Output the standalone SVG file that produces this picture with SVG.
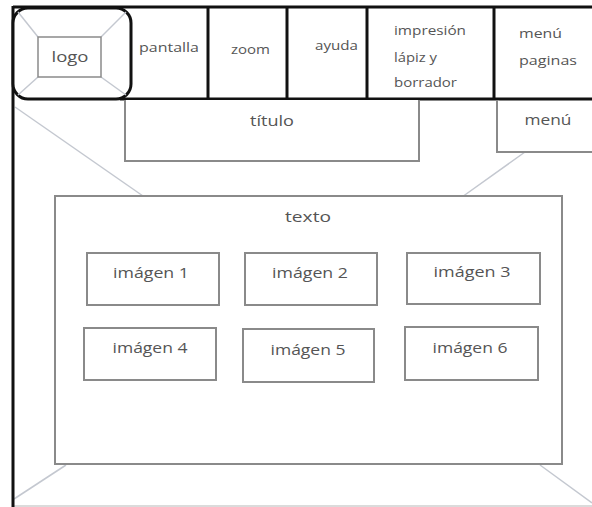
<svg xmlns="http://www.w3.org/2000/svg" width="592" height="507" viewBox="0 0 592 507">
<style>
.bg{fill:#ffffff}
.thick{stroke:#111;stroke-width:3;fill:none}
.box{stroke:#8a8a8a;stroke-width:2;fill:#fff}
.diag{stroke:#c4c8d0;stroke-width:1.5;fill:none}
.faint{stroke:#cfcfcf;stroke-width:1.5;fill:none}
text{font-family:"Open Sans","Liberation Sans",sans-serif;fill:#555}
.sm{font-size:12px}
.md{font-size:15px}
.c{text-anchor:middle}
</style>
<rect class="bg" x="0" y="0" width="592" height="507"/>
<g id="connectors">
<line class="diag" x1="15" y1="107" x2="143" y2="196"/>
<line class="diag" x1="525" y1="152" x2="462" y2="197"/>
<line class="diag" x1="66" y1="465" x2="14" y2="499"/>
<line class="diag" x1="540" y1="465" x2="592" y2="503"/>
</g>
<g id="frame">
<line class="faint" x1="13" y1="506" x2="592" y2="506"/>
<line class="thick" x1="13" y1="7" x2="592" y2="7"/>
<line class="thick" x1="13" y1="6" x2="13" y2="507"/>
<line class="thick" x1="120" y1="99" x2="592" y2="99"/>
<line class="thick" x1="208" y1="7" x2="208" y2="99"/>
<line class="thick" x1="287" y1="7" x2="287" y2="99"/>
<line class="thick" x1="367" y1="7" x2="367" y2="99"/>
<line class="thick" x1="494" y1="7" x2="494" y2="99"/>
</g>
<g id="logo">
<rect x="13" y="8" width="118" height="91" rx="15" ry="15" fill="#fff" stroke="#111" stroke-width="3"/>
<line class="diag" x1="18" y1="12" x2="38" y2="37"/>
<line class="diag" x1="126" y1="12" x2="101" y2="37"/>
<line class="diag" x1="18" y1="95" x2="38" y2="77"/>
<line class="diag" x1="126" y1="95" x2="101" y2="77"/>
<rect x="38" y="37" width="63" height="40" fill="#fff" stroke="#8a8a8a" stroke-width="1.5"/>
<text class="md c" x="70" y="62" textLength="37" lengthAdjust="spacingAndGlyphs">logo</text>
</g>
<g id="pantalla"><text class="sm" x="139" y="52" textLength="60" lengthAdjust="spacingAndGlyphs">pantalla</text></g>
<g id="zoom"><text class="sm" x="231" y="54" textLength="39" lengthAdjust="spacingAndGlyphs">zoom</text></g>
<g id="ayuda"><text class="sm" x="315" y="50" textLength="43" lengthAdjust="spacingAndGlyphs">ayuda</text></g>
<g id="impresion">
<text class="sm" x="394" y="35" textLength="72" lengthAdjust="spacingAndGlyphs">impresión</text>
<text class="sm" x="394" y="62" textLength="43" lengthAdjust="spacingAndGlyphs">lápiz y</text>
<text class="sm" x="394" y="87" textLength="63" lengthAdjust="spacingAndGlyphs">borrador</text>
</g>
<g id="menu-paginas">
<text class="sm" x="519" y="38" textLength="43" lengthAdjust="spacingAndGlyphs">menú</text>
<text class="sm" x="519" y="65" textLength="58" lengthAdjust="spacingAndGlyphs">paginas</text>
</g>
<g id="titulo">
<path d="M125,100 V161 H419 V100" class="box"/>
<text class="md c" x="272" y="126" textLength="44" lengthAdjust="spacingAndGlyphs">título</text>
</g>
<g id="menu">
<path d="M497,100 V152 H592" class="box"/>
<text class="md c" x="548" y="125" textLength="47" lengthAdjust="spacingAndGlyphs">menú</text>
</g>
<g id="texto">
<rect class="box" x="55" y="196" width="507" height="268"/>
<text class="md c" x="308" y="222" textLength="46" lengthAdjust="spacingAndGlyphs">texto</text>
</g>
<g id="imagen1">
<rect class="box" x="87" y="253" width="132" height="52"/>
<text class="md c" x="151" y="278" textLength="76" lengthAdjust="spacingAndGlyphs">imágen 1</text>
</g>
<g id="imagen2">
<rect class="box" x="245" y="253" width="132" height="52"/>
<text class="md c" x="310" y="278" textLength="76" lengthAdjust="spacingAndGlyphs">imágen 2</text>
</g>
<g id="imagen3">
<rect class="box" x="407" y="253" width="133" height="51"/>
<text class="md c" x="472" y="277" textLength="77" lengthAdjust="spacingAndGlyphs">imágen 3</text>
</g>
<g id="imagen4">
<rect class="box" x="84" y="328" width="132" height="52"/>
<text class="md c" x="150" y="353" textLength="75" lengthAdjust="spacingAndGlyphs">imágen 4</text>
</g>
<g id="imagen5">
<rect class="box" x="243" y="329" width="131" height="53"/>
<text class="md c" x="308" y="355" textLength="75" lengthAdjust="spacingAndGlyphs">imágen 5</text>
</g>
<g id="imagen6">
<rect class="box" x="405" y="327" width="133" height="53"/>
<text class="md c" x="470" y="353" textLength="75" lengthAdjust="spacingAndGlyphs">imágen 6</text>
</g>
</svg>
